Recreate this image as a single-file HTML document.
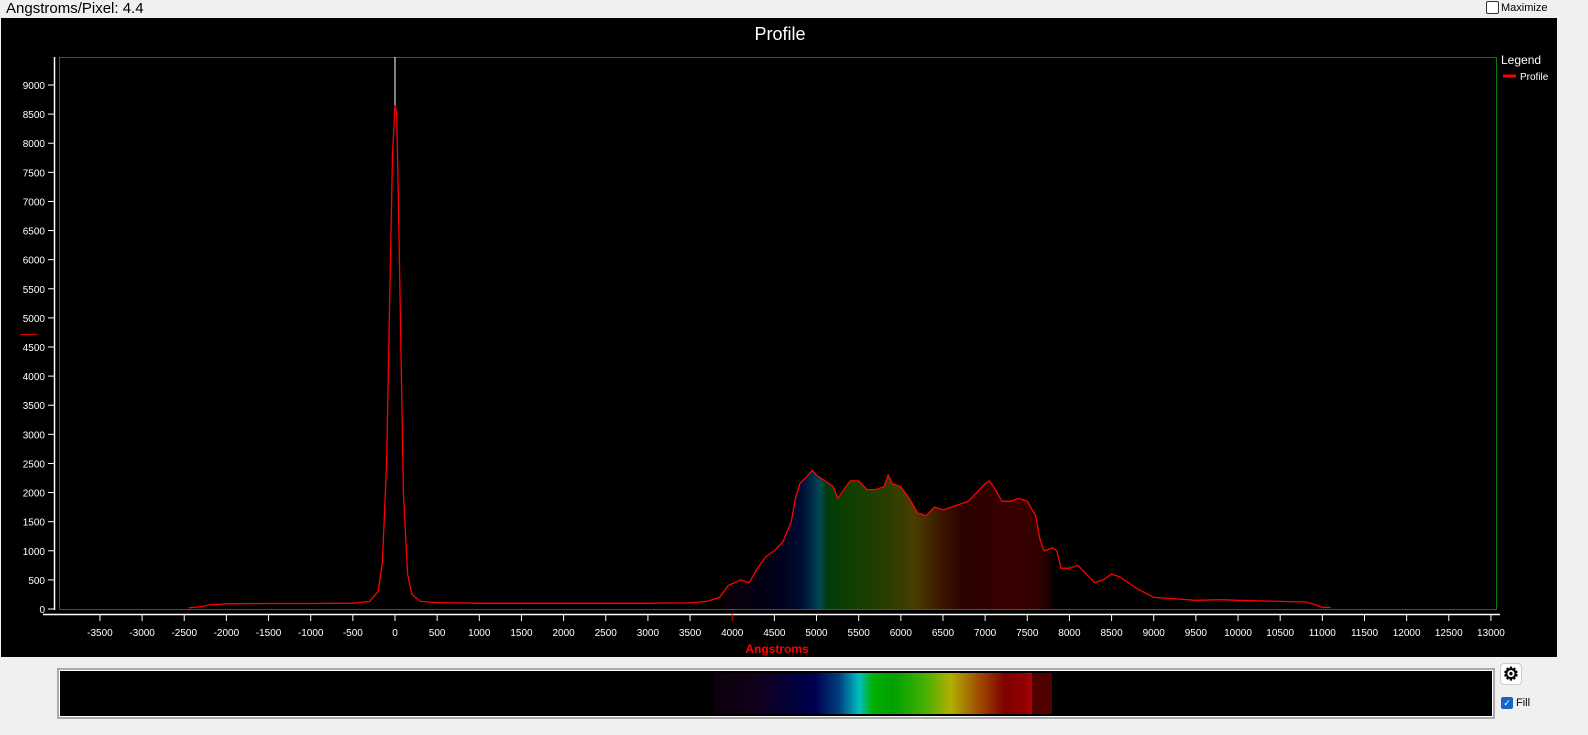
<!DOCTYPE html>
<html><head><meta charset="utf-8"><style>
body{margin:0;width:1588px;height:735px;background:#f0f0f0;font-family:"Liberation Sans",sans-serif;position:relative;overflow:hidden}
.abs{position:absolute}
</style></head><body>
<div class="abs" style="left:6px;top:0px;font-size:15px;color:#000">Angstroms/Pixel: 4.4</div>
<div class="abs" style="left:1486px;top:1px;font-size:11px;color:#000;display:flex;align-items:center"><span style="display:inline-block;width:11px;height:11px;border:1px solid #333;border-radius:2px;background:#fff;margin-right:2px"></span>Maximize</div>
<svg id="chart" class="abs" style="left:0;top:0" width="1588" height="735">
<rect x="1" y="18" width="1556" height="639" fill="#000"/>
<text x="780" y="40" fill="#fff" font-size="18" text-anchor="middle">Profile</text>
<rect x="59.5" y="57.5" width="1437" height="552" fill="none" stroke="#0a7a0a"/>
<text x="1501" y="64" fill="#fff" font-size="12">Legend</text>
<line x1="1503" y1="76" x2="1516" y2="76" stroke="#f00" stroke-width="3"/>
<text x="1520" y="80" fill="#fff" font-size="10">Profile</text>
<text x="777" y="653" fill="#f00" font-size="12" font-weight="bold" text-anchor="middle">Angstroms</text>
<line x1="20" y1="334.5" x2="38" y2="334.5" stroke="#c00"/>
<defs><linearGradient id="spec" gradientUnits="userSpaceOnUse" x1="725" x2="1052" y1="0" y2="0">
<stop offset="0" stop-color="#0a0008"/><stop offset="0.15" stop-color="#000018"/><stop offset="0.23" stop-color="#000a30"/><stop offset="0.27" stop-color="#00304a"/><stop offset="0.29" stop-color="#004b55"/><stop offset="0.31" stop-color="#003a10"/><stop offset="0.36" stop-color="#0a3e00"/><stop offset="0.5" stop-color="#2c3e00"/><stop offset="0.58" stop-color="#4a3c00"/><stop offset="0.66" stop-color="#3c1800"/><stop offset="0.73" stop-color="#2a0000"/><stop offset="0.88" stop-color="#3a0000"/><stop offset="0.96" stop-color="#300000"/><stop offset="1" stop-color="#140000"/></linearGradient></defs>
<g id="fillg"></g><g id="axes"></g><g id="lineg"></g>
</svg>
<div class="abs" style="left:57px;top:668px;width:1434px;height:47px;border:2px solid #aaa;background:#000;box-shadow:inset 0 0 0 1px #fff">
<div class="abs" style="left:655px;top:3px;width:338px;height:41px;background:linear-gradient(to right,#0c000c 0%,#12001a 12%,#000040 25%,#000050 30%,#004080 37%,#00c0c0 43%,#00b000 47%,#00a000 53%,#40b000 62%,#b0b000 70%,#a05000 78%,#800000 86%,#900000 92%,#b00000 94%,#900000 100%)"></div>
<div class="abs" style="left:973px;top:3px;width:20px;height:41px;background:#500000"></div>
</div>
<div class="abs" style="left:1500px;top:663px;width:20px;height:20px;border:1px solid #ccc;border-radius:4px;background:#fff;font-size:18px;line-height:20px;text-align:center;color:#000;font-weight:bold">⚙</div>
<div class="abs" style="left:1501px;top:697px;font-size:11px;display:flex;align-items:center"><span style="display:inline-block;width:12px;height:12px;background:#1466c6;border-radius:2px;color:#fff;font-size:9px;line-height:12px;text-align:center;margin-right:3px">✓</span>Fill</div>
<script>
const wavelengths=[-2450,-2300,-2200,-2000,-1500,-1000,-500,-300,-200,-150,-100,-60,-30,0,20,40,70,100,150,200,300,500,1000,1500,2000,2500,3000,3500,3700,3850,3950,4100,4200,4300,4400,4500,4600,4700,4750,4800,4900,4950,5000,5100,5200,5250,5300,5400,5500,5600,5700,5800,5850,5900,6000,6100,6200,6300,6400,6500,6600,6700,6800,6900,7000,7050,7100,7200,7300,7400,7500,7600,7650,7700,7800,7850,7900,8000,8100,8200,8300,8400,8500,8600,8800,9000,9200,9500,9800,10000,10200,10500,10800,10900,11000,11100];
const intensity=[20,40,70,90,95,95,100,130,300,800,2500,5500,7800,8650,8500,7000,4500,2000,600,250,130,110,100,100,100,100,100,105,130,200,400,500,450,700,900,1000,1150,1500,1900,2150,2300,2380,2300,2200,2100,1900,2000,2200,2200,2050,2050,2100,2300,2150,2100,1900,1650,1600,1750,1700,1750,1800,1850,2000,2150,2200,2100,1850,1850,1900,1850,1600,1200,1000,1050,1000,700,700,750,600,450,500,600,550,350,200,180,150,160,150,140,130,120,80,30,25];
const xTicks=[];for(let v=-3500;v<=13000;v+=500)xTicks.push(v);
const yTicks=[];for(let v=0;v<=9000;v+=500)yTicks.push(v);
const fillStart=3900, fillEnd=7800;
const X=v=>395+(v-0)*(1491-100)/16500;
const Y=v=>609-v*(609-85)/9000;
const NS="http://www.w3.org/2000/svg";
function mk(t,a,p){const e=document.createElementNS(NS,t);for(const k in a)e.setAttribute(k,a[k]);p.appendChild(e);return e;}
const axes=document.getElementById('axes');
const xl=mk('line',{x1:43,y1:614.5,x2:1500,y2:614.5,stroke:'#fff','stroke-width':1.5},axes);


const yl=mk('line',{x1:54.5,y1:57,x2:54.5,y2:610,stroke:'#fff','stroke-width':1.5},axes);


xTicks.forEach(v=>{const x=X(v);
 mk('line',{x1:x,y1:614,x2:x,y2:621,stroke:v===4000?'#f00':'#fff'},axes);
 const t=mk('text',{x:x,y:636,fill:'#fff','font-size':10,'text-anchor':'middle'},axes);t.textContent=v;
 
 });
yTicks.forEach(v=>{const y=Y(v);
 mk('line',{x1:48,y1:y,x2:54,y2:y,stroke:'#fff'},axes);
 const t=mk('text',{x:45,y:y+4,fill:'#fff','font-size':10,'text-anchor':'end'},axes);t.textContent=v;
 
 });
let d='';wavelengths.forEach((w,i)=>{d+=(i?'L':'M')+X(w).toFixed(1)+','+Y(intensity[i]).toFixed(1);});
function interp(w){for(let i=1;i<wavelengths.length;i++){if(wavelengths[i]>=w){const a=wavelengths[i-1],b=wavelengths[i];return intensity[i-1]+(intensity[i]-intensity[i-1])*(w-a)/(b-a);}}return 0;}
let fd='M'+X(fillStart)+','+Y(0)+'L'+X(fillStart)+','+Y(interp(fillStart));
wavelengths.forEach((w,i)=>{if(w>fillStart&&w<fillEnd)fd+='L'+X(w).toFixed(1)+','+Y(intensity[i]).toFixed(1);});
fd+='L'+X(fillEnd)+','+Y(interp(fillEnd))+'L'+X(fillEnd)+','+Y(0)+'Z';
const fp=mk('path',{d:fd,fill:'url(#spec)'},document.getElementById('fillg'));


const wl=mk('line',{x1:X(0),y1:57,x2:X(0),y2:Y(8650),stroke:'#fff'},document.getElementById('lineg'));


const lp=mk('path',{d:d,fill:'none',stroke:'#f00','stroke-width':1.3},document.getElementById('lineg'));


</script>
</body></html>
